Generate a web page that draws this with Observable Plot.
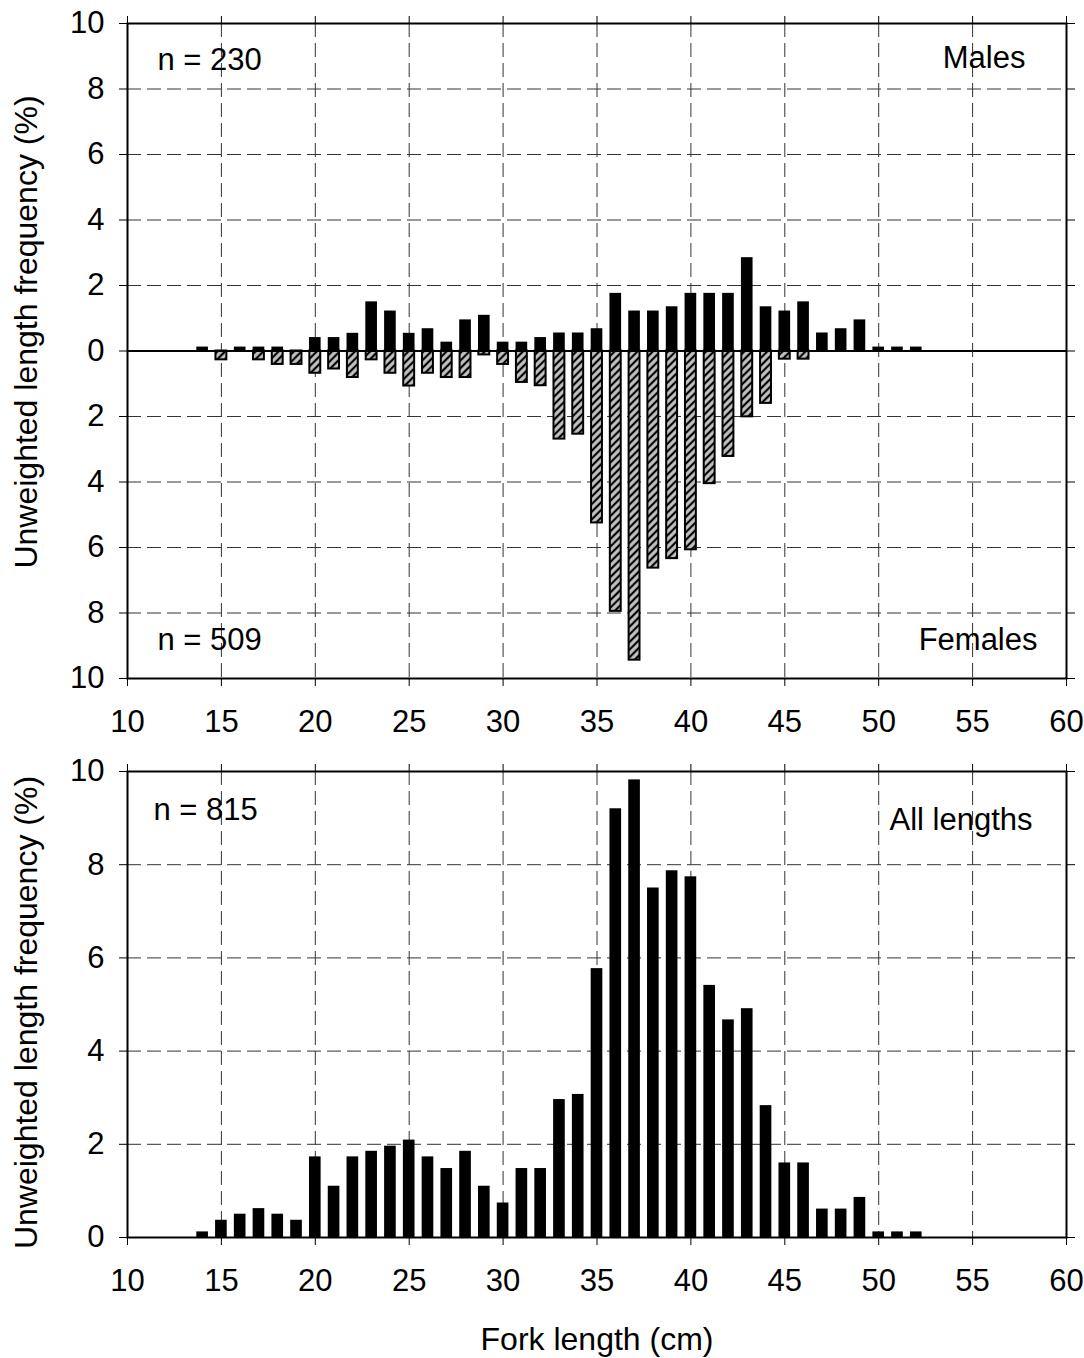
<!DOCTYPE html>
<html><head><meta charset="utf-8">
<script src="https://cdn.jsdelivr.net/npm/d3@7"></script>
<script src="https://cdn.jsdelivr.net/npm/@observablehq/plot@0.6"></script>
<style>body{margin:0;background:#fff} #chart svg{display:block}</style>
</head><body><div id="chart"></div>
<script>
// Fork length classes (cm)
const lengths = [14,15,16,17,18,19,20,21,22,23,24,25,26,27,28,29,30,31,32,33,34,35,36,37,38,39,40,41,42,43,44,45,46,47,48,49,50,51,52];
// Males (% , upward in top panel)
const males = [0.12,0,0.12,0.12,0.12,0,0.41,0.41,0.54,1.5,1.22,0.54,0.68,0.27,0.95,1.09,0.27,0.27,0.41,0.55,0.55,0.68,1.76,1.22,1.22,1.35,1.76,1.76,1.76,2.85,1.35,1.22,1.5,0.55,0.68,0.95,0.12,0.12,0.12];
// Females (% , downward in top panel)
const females = [0,0.27,0,0.27,0.41,0.41,0.68,0.55,0.81,0.27,0.68,1.07,0.68,0.81,0.81,0.12,0.41,0.96,1.06,2.69,2.54,5.25,7.95,9.44,6.63,6.34,6.07,4.05,3.22,2.01,1.6,0.25,0.25,0,0,0,0,0,0];
// All lengths (%)
const allLengths = [0.12,0.37,0.5,0.62,0.5,0.37,1.73,1.1,1.73,1.85,1.96,2.09,1.73,1.48,1.85,1.1,0.74,1.48,1.48,2.96,3.07,5.77,9.2,9.82,7.5,7.87,7.74,5.41,4.67,4.91,2.83,1.6,1.6,0.61,0.61,0.86,0.12,0.12,0.12];

const xTicks = [10,15,20,25,30,35,40,45,50,55,60];
const yTicksTop = [-10,-8,-6,-4,-2,0,2,4,6,8,10];
const yTicksBottom = [0,2,4,6,8,10];
const topLabels = ["n = 230", "Males", "n = 509", "Females"];
const bottomLabels = ["n = 815", "All lengths"];
const yTitle = "Unweighted length frequency (%)";
const xTitle = "Fork length (cm)";

const font = "'Liberation Sans', Arial, Helvetica, sans-serif";
const halfBar = 0.31;
const gridStyle = {stroke: "#333", strokeOpacity: 1, strokeWidth: 1, strokeDasharray: "14,6"};

const maleData = lengths.map((len, i) => ({len, v: males[i]})).filter(d => d.v > 0);
const femaleData = lengths.map((len, i) => ({len, v: females[i]})).filter(d => d.v > 0);
const allData = lengths.map((len, i) => ({len, v: allLengths[i]})).filter(d => d.v > 0);

function label(txt, opts) {
  return Plot.text([txt], {text: d => d, fontSize: 31, fill: "black", lineAnchor: "middle", ...opts});
}

const topPlot = Plot.plot({
  width: 1084, height: 745,
  marginTop: 23, marginBottom: 67, marginLeft: 127, marginRight: 18,
  style: {fontFamily: font, fontSize: "31px", background: "white", color: "black", overflow: "visible"},
  x: {domain: [10, 60]},
  y: {domain: [-10, 10]},
  marks: [
    Plot.gridX({ticks: xTicks.filter(t => t > 10 && t < 60), ...gridStyle}),
    Plot.gridY({ticks: yTicksTop.filter(t => t !== 0 && Math.abs(t) < 10), ...gridStyle}),
    Plot.rectY(maleData, {x1: d => d.len - halfBar, x2: d => d.len + halfBar, y1: 0, y2: "v", fill: "black"}),
    Plot.rectY(femaleData, {x1: d => d.len - 0.29, x2: d => d.len + 0.29, y1: 0, y2: d => -d.v, fill: "url(#hatch)", stroke: "black", strokeWidth: 2}),
    Plot.ruleY([0], {stroke: "black", strokeWidth: 2}),
    Plot.axisX({ticks: xTicks, tickSize: 8, tickPadding: 23, label: null, fontSize: 31}),
    Plot.axisX({anchor: "top", ticks: xTicks, tickSize: 8, tickFormat: () => "", label: null}),
    Plot.axisY({ticks: yTicksTop, tickSize: 8, tickPadding: 15, tickFormat: d => Math.abs(d), label: null, fontSize: 31}),
    Plot.axisY({anchor: "right", ticks: yTicksTop, tickSize: 8, tickFormat: () => "", label: null}),
    Plot.frame({stroke: "black", strokeWidth: 2}),
    label(topLabels[0], {frameAnchor: "top-left", dx: 30, dy: 37, textAnchor: "start"}),
    label(topLabels[1], {frameAnchor: "top-right", dx: -41, dy: 35, textAnchor: "end"}),
    label(topLabels[2], {frameAnchor: "bottom-left", dx: 30, dy: -38, textAnchor: "start"}),
    label(topLabels[3], {frameAnchor: "bottom-right", dx: -29, dy: -38, textAnchor: "end"}),
    label(yTitle, {frameAnchor: "left", dx: -101, dy: -19, rotate: -90, textAnchor: "middle", fontSize: 32})
  ]
});

const bottomPlot = Plot.plot({
  width: 1084, height: 613,
  marginTop: 26, marginBottom: 121, marginLeft: 127, marginRight: 18,
  style: {fontFamily: font, fontSize: "31px", background: "white", color: "black", overflow: "visible"},
  x: {domain: [10, 60]},
  y: {domain: [0, 10]},
  marks: [
    Plot.gridX({ticks: xTicks.filter(t => t > 10 && t < 60), ...gridStyle}),
    Plot.gridY({ticks: yTicksBottom.filter(t => t > 0 && t < 10), ...gridStyle}),
    Plot.rectY(allData, {x1: d => d.len - halfBar, x2: d => d.len + halfBar, y1: 0, y2: "v", fill: "black"}),
    Plot.axisX({ticks: xTicks, tickSize: 8, tickPadding: 23, label: null, fontSize: 31}),
    Plot.axisX({anchor: "top", ticks: xTicks, tickSize: 8, tickFormat: () => "", label: null}),
    Plot.axisY({ticks: yTicksBottom, tickSize: 8, tickPadding: 15, label: null, fontSize: 31}),
    Plot.axisY({anchor: "right", ticks: yTicksBottom, tickSize: 8, tickFormat: () => "", label: null}),
    Plot.frame({stroke: "black", strokeWidth: 2}),
    label(bottomLabels[0], {frameAnchor: "top-left", dx: 26, dy: 39, textAnchor: "start"}),
    label(bottomLabels[1], {frameAnchor: "top-right", dx: -34, dy: 49, textAnchor: "end"}),
    label(yTitle, {frameAnchor: "left", dx: -101, dy: 8, rotate: -90, textAnchor: "middle", fontSize: 32}),
    label(xTitle, {frameAnchor: "bottom", dy: 102, textAnchor: "middle", fontSize: 32})
  ]
});

// hatch pattern for female bars
const ns = "http://www.w3.org/2000/svg";
const defs = document.createElementNS(ns, "defs");
defs.innerHTML = '<pattern id="hatch" patternUnits="userSpaceOnUse" width="5.4" height="5.4" patternTransform="rotate(45)"><rect width="5.4" height="5.4" fill="#c4c4c4"/><line x1="2.7" y1="-1" x2="2.7" y2="6.4" stroke="#000" stroke-width="2.2"/></pattern>';
topPlot.insertBefore(defs, topPlot.firstChild);

const chart = document.getElementById("chart");
chart.appendChild(topPlot);
chart.appendChild(bottomPlot);
</script>
</body></html>
